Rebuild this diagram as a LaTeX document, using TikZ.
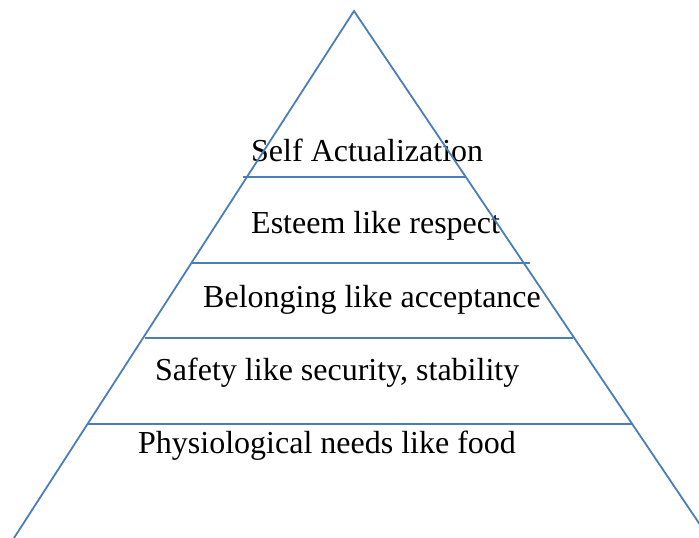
\documentclass[tikz,border=0pt]{standalone}
\usepackage{fontspec}
\setmainfont{Liberation Serif}
\usetikzlibrary{positioning}
\definecolor{pyrblue}{HTML}{4A7EBB}

\begin{document}
\begin{tikzpicture}[x=1pt, y=1pt]
\tikzstyle{edge} = [draw=pyrblue, line width=1.8pt]
\tikzstyle{level} = [anchor=base west, inner sep=0pt,
  font=\fontsize{32}{36}\selectfont]

    \useasboundingbox (0,0) rectangle (699,538);
    \clip (0,0) rectangle (699,538);
    % sides of the pyramid
    \coordinate (apex) at (354,527);
    \coordinate (base-l) at (14,0);
    \coordinate (base-r) at (709,0);
    % dividing lines
    \coordinate (d1-l) at (243,361); \coordinate (d1-r) at (466,361);
    \coordinate (d2-l) at (191,275); \coordinate (d2-r) at (530,275);
    \coordinate (d3-l) at (145,200); \coordinate (d3-r) at (573,200);
    \coordinate (d4-l) at (88,114);  \coordinate (d4-r) at (632,114);
    % levels
    \node [level] (self) at (251,376) {Self Actualization};
    \node [level] (esteem) at (251,304) {Esteem like respect};
    \node [level] (belong) at (203,230) {Belonging like acceptance};
    \node [level] (safety) at (155,157) {Safety like security, stability};
    \node [level] (physio) at (138,84) {Physiological needs like food};
    \path [edge] (base-l) -- (apex) -- (base-r);
    \path [edge] (d1-l) -- (d1-r);
    \path [edge] (d2-l) -- (d2-r);
    \path [edge] (d3-l) -- (d3-r);
    \path [edge] (d4-l) -- (d4-r);
\end{tikzpicture}
\end{document}
